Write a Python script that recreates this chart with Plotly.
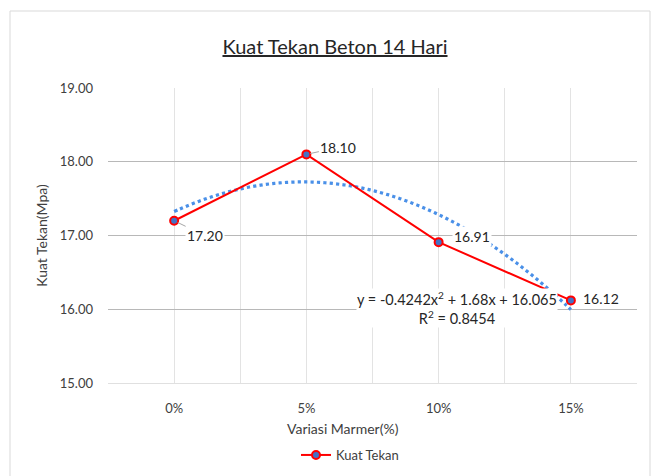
import numpy as np
import plotly.graph_objects as go

# ---- data ----
categories = ["0%", "5%", "10%", "15%"]
x_pos = [1, 2, 3, 4]
kuat_tekan = [17.20, 18.10, 16.91, 16.12]
label_text = ["17.20", "18.10", "16.91", "16.12"]
y_ticks = [15, 16, 17, 18, 19]
y_tick_text = ["15.00", "16.00", "17.00", "18.00", "19.00"]
equation_text = "y = -0.4242x<sup>2</sup> + 1.68x + 16.065"
r2_text = "R<sup>2</sup> = 0.8454"

FONT = "Lato"
W, H = 655, 476
L, R, T, B = 108, 18, 88, 93
pw, ph = W - L - R, H - T - B

# polynomial trendline (order 2) fitted from the data
coef = np.polyfit(x_pos, kuat_tekan, 2)
xt = np.linspace(1, 4, 80)
yt = np.polyval(coef, xt)

fig = go.Figure()
fig.add_trace(go.Scatter(
    x=xt, y=yt, mode="lines", showlegend=False, hoverinfo="skip",
    line=dict(color="#4a90e8", width=3.2, dash="dot", shape="spline"),
))
fig.add_trace(go.Scatter(
    x=x_pos, y=kuat_tekan, mode="lines+markers", name="Kuat Tekan",
    line=dict(color="#ff0000", width=2),
    marker=dict(symbol="circle", size=8, color="#4472c4",
                line=dict(color="#ff0000", width=2)),
))

# data labels
offsets = [(31, 15, True), (32, -7, True), (33, -6, False), (30, -2, False)]
for xv, yv, txt, (ax, ay, arrow) in zip(x_pos, kuat_tekan, label_text, offsets):
    fig.add_annotation(
        x=xv, y=yv, xref="x", yref="y", text=txt, showarrow=True,
        ax=ax, ay=ay, axref="pixel", ayref="pixel",
        arrowhead=0, arrowwidth=1, arrowcolor="#a6a6a6" if arrow else "rgba(0,0,0,0)",
        standoff=4, bgcolor="white", borderpad=1,
        font=dict(family=FONT, size=14, color="#262626"),
    )

# equation box
fig.add_annotation(
    xref="paper", yref="paper",
    x=(457 - L) / pw, y=(H - B - 308) / ph, xanchor="center", yanchor="middle",
    text=equation_text + "<br>" + r2_text, showarrow=False,
    align="center", bgcolor="white", borderpad=0,
    font=dict(family=FONT, size=14.5, color="#262626"),
)

# x-axis title
fig.add_annotation(
    xref="paper", yref="paper", x=(343 - L) / pw, y=(H - B - 428) / ph,
    xanchor="center", yanchor="middle",
    text="Variasi Marmer(%)", showarrow=False,
    font=dict(family=FONT, size=14, color="#404040"),
)

# chart area border
fig.add_shape(type="rect", xref="paper", yref="paper",
              x0=(10 - L) / pw, x1=(650 - L) / pw,
              y0=(H - B - 490) / ph, y1=(H - B - 11) / ph,
              line=dict(color="#d9d9d9", width=1), fillcolor="rgba(0,0,0,0)",
              layer="below")

fig.update_layout(
    width=W, height=H,
    margin=dict(l=L, r=R, t=T, b=B, autoexpand=False),
    paper_bgcolor="white", plot_bgcolor="white",
    font=dict(family=FONT, color="#404040"),
    title=dict(text="<u>Kuat Tekan Beton 14 Hari</u>", x=335 / W, xanchor="center",
               y=1 - 47 / H, yanchor="middle", yref="container",
               font=dict(family=FONT, size=20, color="#262626")),
    showlegend=True,
    legend=dict(orientation="h", x=(350 - L) / pw, xanchor="center",
                y=(H - B - 455) / ph, yanchor="middle",
                font=dict(family=FONT, size=13, color="#404040"),
                bgcolor="rgba(0,0,0,0)"),
    xaxis=dict(
        range=[0.5, 4.5], tickvals=x_pos, ticktext=categories,
        showgrid=True, gridcolor="#e3e3e3", gridwidth=1,
        minor=dict(tickvals=[0.5, 1.5, 2.5, 3.5, 4.5], showgrid=True,
                   gridcolor="#e3e3e3", gridwidth=1),
        zeroline=False, showline=True, linecolor="#e0e0e0", mirror=False,
        ticks="", ticklabelstandoff=13, automargin=False,
        tickfont=dict(family=FONT, size=13, color="#404040"),
    ),
    yaxis=dict(
        range=[15, 19], tickvals=y_ticks, ticktext=y_tick_text,
        showgrid=True, gridcolor="#b8b8b8", gridwidth=1,
        zeroline=False, showline=False, ticks="", ticklabelstandoff=14,
        automargin=False,
        tickfont=dict(family=FONT, size=13, color="#404040"),
        title=dict(text="Kuat Tekan(Mpa)", standoff=8,
                   font=dict(family=FONT, size=14, color="#404040")),
    ),
)

fig.write_html("out.html", post_script="document.body.style.margin='0';",
               config={"displayModeBar": False})
